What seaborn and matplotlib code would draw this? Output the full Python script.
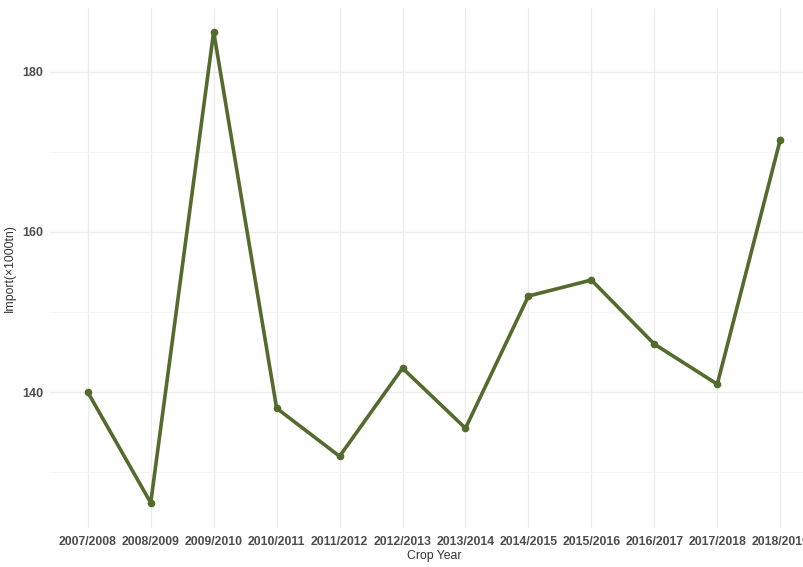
import pandas as pd
import matplotlib.pyplot as plt
import seaborn as sns
from matplotlib.ticker import MultipleLocator

crop_years = ['2007/2008', '2008/2009', '2009/2010', '2010/2011', '2011/2012', '2012/2013',
              '2013/2014', '2014/2015', '2015/2016', '2016/2017', '2017/2018', '2018/2019']
imports = [140, 126.2, 185, 138, 132, 143, 135.5, 152, 154, 146, 141, 171.5]

df = pd.DataFrame({'Crop Year': crop_years, 'Import': imports})

sns.set_theme(style='whitegrid')
plt.rcParams['font.family'] = ['Liberation Sans', 'DejaVu Sans']

fig = plt.figure(figsize=(8.04, 5.67), dpi=100)
# panel runs past the right edge, like the cropped original
ax = fig.add_axes([50 / 804, 1 - 528 / 567, 768 / 804, 520 / 567])

sns.lineplot(data=df, x='Crop Year', y='Import', sort=False, color='#536B2D',
             linewidth=2.6, marker='o', markersize=5.5, markeredgewidth=0, ax=ax)

ax.set_xlim(-0.6, len(crop_years) - 0.4)
ax.set_ylim(123.05, 187.95)
ax.yaxis.set_major_locator(MultipleLocator(20))
ax.yaxis.set_minor_locator(MultipleLocator(10))

ax.grid(which='major', color='#EBEBEB', linewidth=0.9)
ax.grid(which='minor', axis='y', color='#F4F4F4', linewidth=0.6)
for s in ax.spines.values():
    s.set_visible(False)
ax.set_facecolor('white')

ax.tick_params(axis='both', which='both', length=0, pad=4)
ax.tick_params(axis='x', labelsize=8.8, labelcolor='#4D4D4D', pad=6)
ax.tick_params(axis='y', labelsize=9, labelcolor='#4D4D4D', pad=5)
for lbl in ax.get_xticklabels() + ax.get_yticklabels():
    lbl.set_fontweight('bold')

ax.set_xlabel('Crop Year', fontsize=8.8, color='#333333', labelpad=1)
ax.set_ylabel('Import(×1000tn)', fontsize=8.8, color='#333333', labelpad=4)

fig.savefig('out.png', dpi=100)
